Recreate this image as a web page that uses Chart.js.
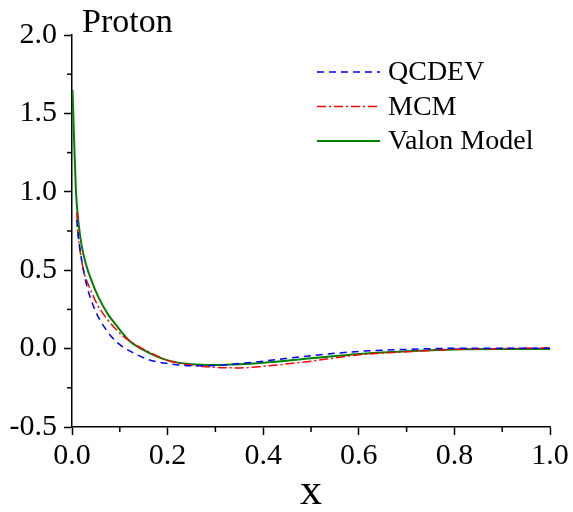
<!DOCTYPE html>
<html lang="en">
<head>
    <meta charset="UTF-8">
    <title>Proton</title>
    <script src="https://cdn.jsdelivr.net/npm/chart.js"></script>
    <style>
        body { margin: 0; background: #fff; }
        canvas { display: block; }
    </style>
</head>
<body>
    <canvas id="chart" width="573" height="512"></canvas>
    <script>
        // values
        var valonX = [0.001, 0.005, 0.008, 0.013, 0.02, 0.03, 0.04, 0.055, 0.075, 0.095, 0.12, 0.15, 0.2, 0.25, 0.3, 0.35, 0.4, 0.5, 0.6, 0.7, 0.8, 0.9, 1.0];
        var valonY = [1.65, 1.28, 1.02, 0.82, 0.66, 0.53, 0.44, 0.33, 0.22, 0.14, 0.05, -0.01, -0.075, -0.1, -0.105, -0.1, -0.09, -0.062, -0.035, -0.017, -0.006, -0.003, -0.003];

        var qcdevX = [0.01, 0.013, 0.017, 0.024, 0.031, 0.04, 0.052, 0.065, 0.08, 0.1, 0.13, 0.16, 0.2, 0.25, 0.3, 0.35, 0.4, 0.5, 0.6, 0.7, 0.8, 0.9, 1.0];
        var qcdevY = [0.82, 0.72, 0.63, 0.5, 0.4, 0.31, 0.22, 0.15, 0.085, 0.025, -0.03, -0.07, -0.095, -0.11, -0.108, -0.095, -0.08, -0.045, -0.018, -0.005, 0.002, 0.003, 0.002];

        var mcmX = [0.01, 0.013, 0.018, 0.024, 0.038, 0.055, 0.073, 0.09, 0.107, 0.13, 0.16, 0.2, 0.25, 0.3, 0.35, 0.4, 0.5, 0.6, 0.7, 0.8, 0.9, 1.0];
        var mcmY = [0.87, 0.72, 0.6, 0.5, 0.38, 0.27, 0.19, 0.13, 0.08, 0.03, -0.02, -0.075, -0.105, -0.12, -0.123, -0.113, -0.08, -0.04, -0.02, -0.005, 0.0, 0.005];

        var xTicks = [0, 0.2, 0.4, 0.6, 0.8, 1.0];
        var yTicks = [-0.5, 0, 0.5, 1.0, 1.5, 2.0];
        var xMinor = [0.1, 0.3, 0.5, 0.7, 0.9];
        var yMinor = [-0.25, 0.25, 0.75, 1.25, 1.75];

        var serif = "'Liberation Serif', 'Times New Roman', serif";

        function pts(xs, ys) {
            return xs.map(function (x, i) { return { x: x, y: ys[i] }; });
        }

        // minor ticks, legend box, panel label and axis title
        var extras = {
            id: 'extras',
            afterDraw: function (chart) {
                var ctx = chart.ctx;
                var xs = chart.scales.x, ys = chart.scales.y;
                var a = chart.chartArea;
                ctx.save();
                ctx.strokeStyle = '#000';
                ctx.lineWidth = 1.5;
                xMinor.forEach(function (v) {
                    var p = xs.getPixelForValue(v);
                    ctx.beginPath(); ctx.moveTo(p, a.bottom); ctx.lineTo(p, a.bottom + 5); ctx.stroke();
                });
                yMinor.forEach(function (v) {
                    var p = ys.getPixelForValue(v);
                    ctx.beginPath(); ctx.moveTo(a.left, p); ctx.lineTo(a.left - 5, p); ctx.stroke();
                });

                // legend
                ctx.font = '28px ' + serif;
                ctx.textBaseline = 'middle';
                ctx.fillStyle = '#000';
                chart.data.datasets.forEach(function (ds, i) {
                    var y = 72 + i * 34.5;
                    ctx.strokeStyle = ds.borderColor;
                    ctx.lineWidth = ds.borderWidth;
                    ctx.setLineDash(ds.borderDash || []);
                    ctx.beginPath(); ctx.moveTo(317, y); ctx.lineTo(380, y); ctx.stroke();
                    ctx.setLineDash([]);
                    ctx.fillText(ds.label, 388, y + 1);
                });

                ctx.font = '34px ' + serif;
                ctx.textBaseline = 'alphabetic';
                ctx.fillText('Proton', 82, 32);

                ctx.font = '44px ' + serif;
                ctx.textAlign = 'center';
                ctx.fillText('x', (a.left + a.right) / 2, 504);
                ctx.restore();
            }
        };

        new Chart(document.getElementById('chart'), {
            type: 'line',
            data: {
                datasets: [{
                    label: 'QCDEV',
                    data: pts(qcdevX, qcdevY),
                    borderColor: '#0000ff',
                    borderWidth: 1.5,
                    borderDash: [7, 5]
                }, {
                    label: 'MCM',
                    data: pts(mcmX, mcmY),
                    borderColor: '#ff0000',
                    borderWidth: 1.5,
                    borderDash: [9, 3, 2, 3]
                }, {
                    label: 'Valon Model',
                    data: pts(valonX, valonY),
                    borderColor: '#008000',
                    borderWidth: 2
                }]
            },
            options: {
                responsive: false,
                animation: false,
                devicePixelRatio: 1,
                layout: { padding: { top: 35, right: 23, left: 0, bottom: 0 } },
                elements: {
                    point: { radius: 0 },
                    line: { cubicInterpolationMode: 'monotone', fill: false }
                },
                plugins: { legend: { display: false }, tooltip: { enabled: false } },
                scales: {
                    x: {
                        type: 'linear',
                        min: 0, max: 1,
                        afterFit: function (s) { s.height = 85; },
                        afterBuildTicks: function (s) { s.ticks = xTicks.map(function (v) { return { value: v }; }); },
                        grid: { drawOnChartArea: false, color: '#000', tickLength: 8, tickWidth: 1.5 },
                        border: { color: '#000', width: 1.5 },
                        ticks: {
                            color: '#000', font: { family: serif, size: 30 }, padding: 3,
                            maxRotation: 0,
                            callback: function (v) { return v.toFixed(1); }
                        }
                    },
                    y: {
                        min: -0.5, max: 2,
                        afterFit: function (s) { s.width = 72; },
                        afterBuildTicks: function (s) { s.ticks = yTicks.map(function (v) { return { value: v }; }); },
                        grid: { drawOnChartArea: false, color: '#000', tickLength: 8, tickWidth: 1.5 },
                        border: { color: '#000', width: 1.5 },
                        ticks: {
                            color: '#000', font: { family: serif, size: 30 }, padding: 7,
                            callback: function (v) { return v.toFixed(1); }
                        }
                    }
                }
            },
            plugins: [extras]
        });
    </script>
</body>
</html>
